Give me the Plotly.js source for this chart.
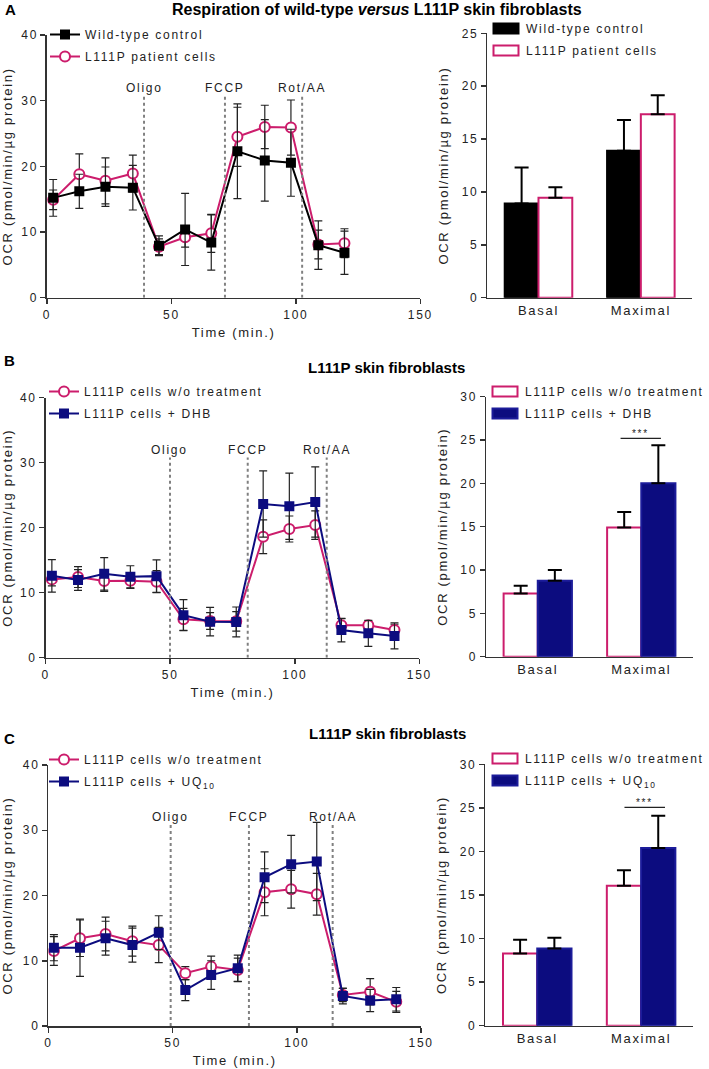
<!DOCTYPE html>
<html><head><meta charset="utf-8">
<script src="https://cdn.plot.ly/plotly-3.0.1.min.js"></script>
<style>
html,body{margin:0;padding:0;background:#fff;}
text{letter-spacing:1.7px;}
text[style*="bold"]{letter-spacing:0px;}
</style></head>
<body><div id="chart" style="width:709px;height:1069px;"></div>
<script>
// ---------- Panel A: time course ----------
const timeA = [2.5, 13, 23.5, 34.5, 45, 55.5, 66, 76.5, 87.5, 98, 109, 119.5];
const wtA = [15.2, 16.2, 16.9, 16.75, 7.9, 10.4, 8.4, 22.3, 20.9, 20.55, 8.0, 6.85];
const wtAErr = [2.8, 2.6, 3.0, 3.4, 1.5, 5.5, 4.2, 7.2, 6.2, 5.1, 3.7, 3.3];
const patA = [14.9, 18.8, 17.8, 18.9, 7.75, 9.2, 9.8, 24.5, 26.0, 25.9, 8.1, 8.3];
const patAErr = [1.5, 3.1, 3.5, 2.8, 1.2, 1.5, 2.9, 4.5, 3.3, 4.2, 2.2, 2.2];
const injTimesA = [39, 71.5, 102.5];
// ---------- Panel A: bars ----------
const barCats = ['Basal', 'Maximal'];
const wtBarA = [8.9, 13.9];
const wtBarAErr = [3.4, 2.9];
const patBarA = [9.45, 17.35];
const patBarAErr = [1.0, 1.8];

// ---------- Panel B: time course ----------
const timeB = [2.5, 13, 23.5, 34, 44.5, 55.3, 66, 76.5, 87.3, 97.8, 108.2, 118.7, 129.5, 140];
const untreatedB = [12.05, 12.4, 11.8, 11.85, 11.7, 5.9, 5.65, 5.6, 18.6, 19.8, 20.4, 5.0, 5.0, 4.25];
const untreatedBErr = [1.0, 1.6, 1.6, 1.2, 1.7, 1.7, 1.3, 1.5, 2.6, 2.0, 2.2, 1.0, 0.6, 0.9];
const dhbB = [12.6, 11.95, 12.9, 12.45, 12.55, 6.55, 5.55, 5.5, 23.65, 23.3, 23.95, 4.25, 3.75, 3.35];
const dhbBErr = [2.5, 1.6, 2.5, 1.7, 2.5, 2.4, 2.2, 2.3, 5.1, 5.1, 5.4, 1.8, 2.0, 2.0];
const injTimesB = [49.9, 81.1, 112.8];
// ---------- Panel B: bars ----------
const untreatedBarB = [7.3, 14.9];
const untreatedBarBErr = [0.9, 1.8];
const dhbBarB = [8.75, 20.0];
const dhbBarBErr = [1.25, 4.4];
const sigB = {from: 0.8, to: 1.19, level: 25.2, label: '***'};

// ---------- Panel C: time course ----------
const timeC = [2.2, 12.7, 23, 33.8, 44.4, 55.1, 65.5, 76.2, 87, 97.7, 108, 118.5, 129.5, 140];
const untreatedC = [11.5, 13.45, 14.1, 13.0, 12.4, 8.1, 9.1, 8.6, 20.5, 20.95, 20.2, 4.75, 5.25, 3.7];
const untreatedCErr = [2.2, 2.8, 2.6, 2.3, 2.7, 1.0, 1.6, 1.8, 3.6, 2.9, 3.2, 1.0, 2.0, 1.6];
const uqC = [12.0, 12.0, 13.45, 12.4, 14.3, 5.5, 7.8, 8.85, 22.8, 24.8, 25.2, 4.6, 3.9, 4.1];
const uqCErr = [2.0, 4.4, 2.6, 2.6, 2.6, 1.6, 2.2, 2.0, 3.9, 4.4, 6.0, 1.2, 1.7, 1.8];
const injTimesC = [49.2, 80.7, 114.4];
// ---------- Panel C: bars ----------
const untreatedBarC = [8.3, 16.05];
const untreatedBarCErr = [1.55, 1.8];
const uqBarC = [8.85, 20.4];
const uqBarCErr = [1.25, 3.7];
const sigC = {from: 0.84, to: 1.23, level: 25.05, label: '***'};

const injLabels = ['Oligo', 'FCCP', 'Rot/AA'];
const injLabelLevel = 32;
const injLineTop = 30.8;

// ---------- styling ----------
const FONT = 'Liberation Sans, Arial, Helvetica, sans-serif';
const PINK = '#CC1D6C';
const NAVY = '#0C0C7F';
const BLACK = '#000000';
const AXC = '#333333';
const TXT = '#222222';
const W = 709, H = 1069;
const px = v => v / W;
const py = v => 1 - v / H;

function lineTrace(x, y, err, name, color, filled, xa, ya, legend, rank) {
  return {
    type: 'scatter', mode: 'lines+markers', x: x, y: y, name: name,
    xaxis: xa, yaxis: ya, legend: legend, legendgroup: legend + rank, legendrank: rank,
    line: {color: color, width: 2},
    marker: filled ? {symbol: 'square', size: 10, color: color, line: {width: 0}}
                   : {symbol: 'circle', size: 10, color: '#ffffff', line: {color: color, width: 2}},
    error_y: {type: 'data', array: err, visible: true, color: '#222', thickness: 1.2, width: 4}
  };
}
function barTrace(y, err, name, fill, edge, xa, ya, legend, rank) {
  return {
    type: 'bar', x: barCats, y: y, name: name, xaxis: xa, yaxis: ya,
    legend: legend, legendgroup: legend + rank, legendrank: rank,
    marker: {color: fill, line: {color: edge, width: 2}},
    error_y: {type: 'data', symmetric: false, array: err, arrayminus: err.map(() => 0),
              color: '#000', thickness: 2, width: 7}
  };
}

const data = [
  lineTrace(timeA, patA, patAErr, 'L111P patient cells', PINK, false, 'x', 'y', 'legend', 2),
  lineTrace(timeA, wtA, wtAErr, 'Wild-type control', BLACK, true, 'x', 'y', 'legend', 1),
  barTrace(wtBarA, wtBarAErr, 'Wild-type control', BLACK, BLACK, 'x2', 'y2', 'legend2', 1),
  barTrace(patBarA, patBarAErr, 'L111P patient cells', '#ffffff', PINK, 'x2', 'y2', 'legend2', 2),
  lineTrace(timeB, untreatedB, untreatedBErr, 'L111P cells w/o treatment', PINK, false, 'x3', 'y3', 'legend3', 1),
  lineTrace(timeB, dhbB, dhbBErr, 'L111P cells + DHB', NAVY, true, 'x3', 'y3', 'legend3', 2),
  barTrace(untreatedBarB, untreatedBarBErr, 'L111P cells w/o treatment', '#ffffff', PINK, 'x4', 'y4', 'legend4', 1),
  barTrace(dhbBarB, dhbBarBErr, 'L111P cells + DHB', NAVY, '#1c1c9a', 'x4', 'y4', 'legend4', 2),
  lineTrace(timeC, untreatedC, untreatedCErr, 'L111P cells w/o treatment', PINK, false, 'x5', 'y5', 'legend5', 1),
  lineTrace(timeC, uqC, uqCErr, 'L111P cells + UQ<sub>10</sub>', NAVY, true, 'x5', 'y5', 'legend5', 2),
  barTrace(untreatedBarC, untreatedBarCErr, 'L111P cells w/o treatment', '#ffffff', PINK, 'x6', 'y6', 'legend6', 1),
  barTrace(uqBarC, uqBarCErr, 'L111P cells + UQ<sub>10</sub>', NAVY, '#1c1c9a', 'x6', 'y6', 'legend6', 2)
];

const axBase = {
  showgrid: false, zeroline: false, showline: true, linecolor: AXC, linewidth: 1.5,
  ticks: 'outside', ticklen: 5, tickwidth: 1.5, tickcolor: AXC,
  tickfont: {family: FONT, size: 12, color: TXT}, fixedrange: true
};
const ocrTitle = {text: 'OCR (pmol/min/µg protein)', font: {family: FONT, size: 13, color: TXT}, standoff: 10};
const timeTitle = {text: 'Time (min.)', font: {family: FONT, size: 13, color: TXT}, standoff: 7};

function lineX(dom, anchor) { return Object.assign({}, axBase, {domain: dom, anchor: anchor, range: [0, 150], tickvals: [0, 50, 100, 150], title: timeTitle}); }
function lineY(dom, anchor) { return Object.assign({}, axBase, {domain: dom, anchor: anchor, range: [0, 40], dtick: 10, tick0: 0, title: ocrTitle}); }
function barX(dom, anchor) { return Object.assign({}, axBase, {domain: dom, anchor: anchor, type: 'category', range: [-0.5, 1.5], ticks: '', tickfont: {family: FONT, size: 13, color: TXT}}); }
function barY(dom, anchor, top) { return Object.assign({}, axBase, {domain: dom, anchor: anchor, range: [0, top], dtick: 5, tick0: 0, title: ocrTitle}); }

const legBase = {bgcolor: 'rgba(0,0,0,0)', font: {family: FONT, size: 12, color: TXT},
  xanchor: 'left', yanchor: 'top', tracegroupgap: 3, traceorder: 'grouped', itemclick: false, itemdoubleclick: false};

const shapes = [];
const annotations = [];
function injections(times, xa, ya) {
  times.forEach((t, i) => {
    shapes.push({type: 'line', xref: xa, yref: ya, x0: t, x1: t, y0: 0, y1: injLineTop,
      line: {color: '#808080', width: 2, dash: 'dot'}});
    annotations.push({xref: xa, yref: ya, x: t, y: injLabelLevel, text: injLabels[i], showarrow: false,
      xanchor: 'center', yanchor: 'middle', font: {family: FONT, size: 12, color: TXT}});
  });
}
injections(injTimesA, 'x', 'y');
injections(injTimesB, 'x3', 'y3');
injections(injTimesC, 'x5', 'y5');
function sig(s, xa, ya) {
  shapes.push({type: 'line', xref: xa, yref: ya, x0: s.from, x1: s.to, y0: s.level, y1: s.level,
    line: {color: '#222', width: 1.2}});
  annotations.push({xref: xa, yref: ya, x: (s.from + s.to) / 2, y: s.level, text: s.label, showarrow: false,
    xanchor: 'center', yanchor: 'bottom', yshift: -3, font: {family: FONT, size: 10, color: TXT}});
}
sig(sigB, 'x4', 'y4');
sig(sigC, 'x6', 'y6');

function paperText(text, x, y, anchor, size) {
  annotations.push({xref: 'paper', yref: 'paper', x: px(x), y: py(y), text: text, showarrow: false,
    xanchor: anchor, yanchor: 'middle', font: {family: FONT, size: size, color: '#000', weight: 'bold'}});
}
paperText('A', 3, 9, 'left', 15);
paperText('B', 2, 361, 'left', 15);
paperText('C', 2, 738, 'left', 15);
paperText('Respiration of wild-type <i>versus</i> L111P skin fibroblasts', 378, 9, 'center', 16);
paperText('L111P skin fibroblasts', 387, 367, 'center', 15);
paperText('L111P skin fibroblasts', 388, 733, 'center', 15);

const layout = {
  width: W, height: H, margin: {l: 0, r: 0, t: 0, b: 0},
  paper_bgcolor: '#ffffff', plot_bgcolor: 'rgba(0,0,0,0)',
  font: {family: FONT, color: TXT},
  barmode: 'group', bargap: 0.34, bargroupgap: 0,
  xaxis: lineX([px(47), px(421)], 'y'),
  yaxis: lineY([py(297.7), py(35)], 'x'),
  xaxis2: barX([px(488), px(693)], 'y2'),
  yaxis2: barY([py(297.7), py(33.3)], 'x2', 25),
  xaxis3: lineX([px(45.7), px(420)], 'y3'),
  yaxis3: lineY([py(657.7), py(397.7)], 'x3'),
  xaxis4: barX([px(486.7), px(694)], 'y4'),
  yaxis4: barY([py(656.7), py(396.7)], 'x4', 30),
  xaxis5: lineX([px(48.5), px(421.7)], 'y5'),
  yaxis5: lineY([py(1026), py(765)], 'x5'),
  xaxis6: barX([px(486), px(694)], 'y6'),
  yaxis6: barY([py(1025.7), py(764.3)], 'x6', 30),
  legend: Object.assign({}, legBase, {x: px(45), y: py(20)}),
  legend2: Object.assign({}, legBase, {x: px(486), y: py(14)}),
  legend3: Object.assign({}, legBase, {x: px(44), y: py(377)}),
  legend4: Object.assign({}, legBase, {x: px(486), y: py(377)}),
  legend5: Object.assign({}, legBase, {x: px(44), y: py(745)}),
  legend6: Object.assign({}, legBase, {x: px(486), y: py(744)}),
  shapes: shapes,
  annotations: annotations
};

function widenSwatches() {
  // widen the bar legend swatches to the flat rectangles used in the original figure
  document.querySelectorAll('#chart g.legendpoints path').forEach(p => {
    const d = (p.getAttribute('d') || '').replace(/\s/g, '');
    if (d === 'M6,6H-6V-6H6Z') p.setAttribute('d', 'M12.5,5H-12.5V-5H12.5Z');
  });
}
Plotly.newPlot('chart', data, layout, {displayModeBar: false, staticPlot: true}).then(widenSwatches);
widenSwatches();
</script></body></html>
